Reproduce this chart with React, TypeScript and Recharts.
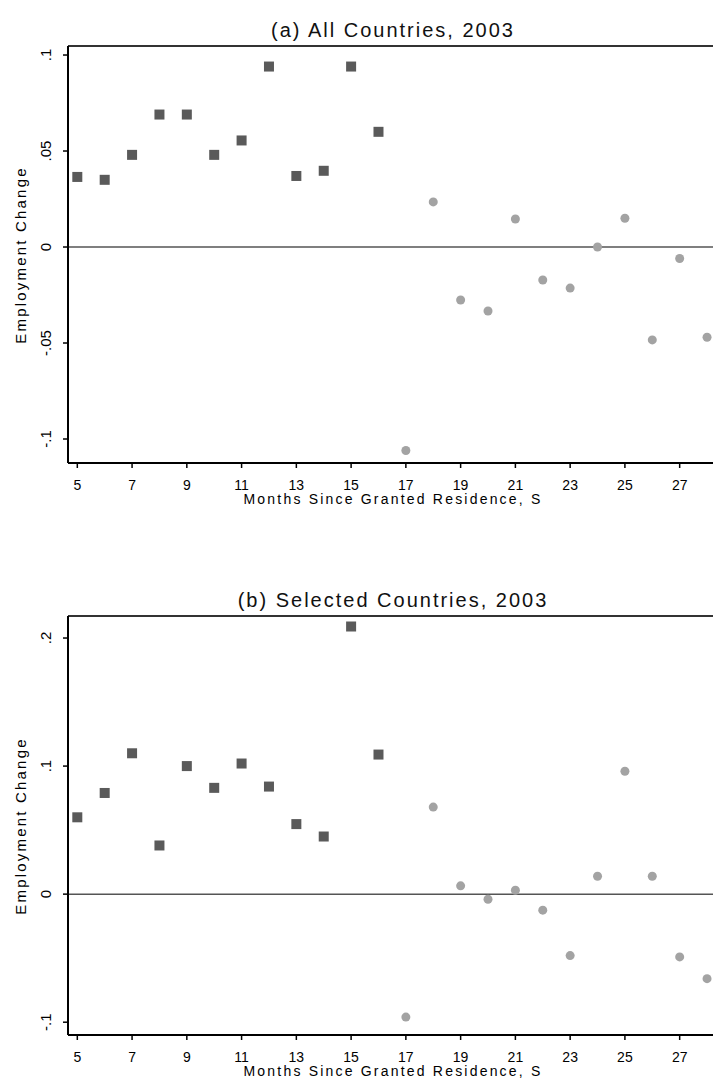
import { ReferenceLine, Scatter, ScatterChart, XAxis, YAxis } from 'recharts';

const monthsBefore = [5, 6, 7, 8, 9, 10, 11, 12, 13, 14, 15, 16];
const monthsAfter = [17, 18, 19, 20, 21, 22, 23, 24, 25, 26, 27, 28];
const monthTicks = [5, 7, 9, 11, 13, 15, 17, 19, 21, 23, 25, 27];

// (a) all countries
const allBefore = [0.0365, 0.035, 0.048, 0.069, 0.069, 0.048, 0.0555, 0.094, 0.037, 0.0397, 0.094, 0.06];
const allAfter = [-0.106, 0.0235, -0.0276, -0.0333, 0.0146, -0.0172, -0.0214, 0.0, 0.015, -0.0484, -0.006, -0.047];
const allTicks = [-0.1, -0.05, 0, 0.05, 0.1];

// (b) selected countries
const selBefore = [0.06, 0.079, 0.11, 0.038, 0.1, 0.083, 0.102, 0.084, 0.0547, 0.045, 0.209, 0.109];
const selAfter = [-0.096, 0.068, 0.0065, -0.004, 0.003, -0.0125, -0.048, 0.014, 0.096, 0.014, -0.049, -0.066];
const selTicks = [-0.1, 0, 0.1, 0.2];

const DARK = '#5a5a5a';
const LIGHT = '#a3a3a3';
const FONT = '"Liberation Sans", Arial, sans-serif';

const fmt = (v: number) => (v === 0 ? '0' : String(v).replace('0.', '.'));

const Square = (props: any) => (
  <rect x={props.cx - 5} y={props.cy - 5} width={10} height={10} fill={DARK} />
);
const Dot = (props: any) => <circle cx={props.cx} cy={props.cy} r={4.5} fill={LIGHT} />;

const YTick = (props: any) => {
  const { x, y, payload } = props;
  const px = x - 10;
  return (
    <text x={px} y={y} transform={`rotate(-90, ${px}, ${y})`} textAnchor="middle" fontSize={15} fontFamily={FONT} fill="#000">
      {fmt(payload.value)}
    </text>
  );
};

function Panel(props: {
  top: number;
  marginTop: number;
  height: number;
  title: string;
  before: number[];
  after: number[];
  yDomain: [number, number];
  yTicks: number[];
}) {
  const { top, marginTop, height, title, before, after, yDomain, yTicks } = props;
  const plotBottom = top + height - 47;
  const plotTop = top + marginTop;
  const beforeData = before.map((v, i) => ({ month: monthsBefore[i], value: v }));
  const afterData = after.map((v, i) => ({ month: monthsAfter[i], value: v }));

  return (
    <>
      <div style={{ position: 'absolute', left: 0, top }}>
        <ScatterChart width={730} height={height} margin={{ top: marginTop, right: 12, bottom: 0, left: 0 }}>
          <XAxis
            type="number"
            dataKey="month"
            domain={[4.66, 28.4]}
            ticks={monthTicks}
            interval={0}
            allowDataOverflow
            height={47}
            tickSize={5}
            tickMargin={12}
            axisLine={{ stroke: '#000', strokeWidth: 2 }}
            tickLine={{ stroke: '#000', strokeWidth: 1.5 }}
            tick={{ fontSize: 14, fill: '#000', fontFamily: FONT }}
          />
          <YAxis
            type="number"
            dataKey="value"
            domain={yDomain}
            ticks={yTicks}
            interval={0}
            allowDataOverflow
            width={68}
            tickSize={5}
            tickMargin={2}
            axisLine={{ stroke: '#000', strokeWidth: 2 }}
            tickLine={{ stroke: '#000', strokeWidth: 1.5 }}
            tick={<YTick />}
          />
          <ReferenceLine y={yDomain[1]} stroke="#333" strokeWidth={2} />
          <ReferenceLine y={0} stroke="#555" strokeWidth={1.5} />
          <Scatter data={beforeData} shape={<Square />} isAnimationActive={false} />
          <Scatter data={afterData} shape={<Dot />} isAnimationActive={false} />
        </ScatterChart>
      </div>
      <div
        style={{
          position: 'absolute',
          left: 393,
          top: plotTop - 16,
          transform: 'translate(-50%, -50%)',
          whiteSpace: 'nowrap',
          fontFamily: FONT,
          fontSize: 20,
          letterSpacing: 2,
          color: '#111',
        }}
      >
        {title}
      </div>
      <div
        style={{
          position: 'absolute',
          left: 20,
          top: (plotTop + plotBottom) / 2,
          transform: 'translate(-50%, -50%) rotate(-90deg)',
          whiteSpace: 'nowrap',
          fontFamily: FONT,
          fontSize: 15,
          letterSpacing: 2.2,
          color: '#000',
        }}
      >
        Employment Change
      </div>
      <div
        style={{
          position: 'absolute',
          left: 393,
          top: plotBottom + 36,
          transform: 'translate(-50%, -50%)',
          whiteSpace: 'nowrap',
          fontFamily: FONT,
          fontSize: 14,
          letterSpacing: 2.2,
          color: '#000',
        }}
      >
        Months Since Granted Residence, S
      </div>
    </>
  );
}

export default function App() {
  return (
    <div style={{ position: 'fixed', left: 0, top: 0, width: 713, height: 1084, overflow: 'hidden', background: '#fff' }}>
      <Panel
        top={0}
        marginTop={46}
        height={510}
        title="(a) All Countries, 2003"
        before={allBefore}
        after={allAfter}
        yDomain={[-0.1125, 0.1047]}
        yTicks={allTicks}
      />
      <Panel
        top={560}
        marginTop={56}
        height={522}
        title="(b) Selected Countries, 2003"
        before={selBefore}
        after={selAfter}
        yDomain={[-0.11, 0.2172]}
        yTicks={selTicks}
      />
    </div>
  );
}
